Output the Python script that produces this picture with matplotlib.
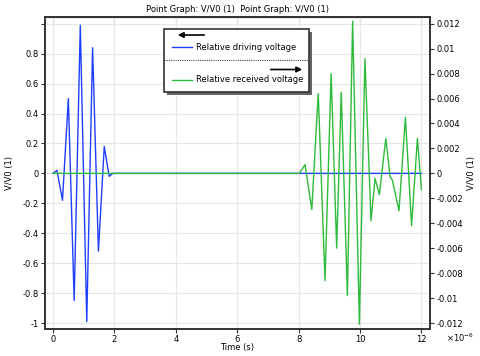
import matplotlib
matplotlib.use("Agg")
import matplotlib.pyplot as plt
from matplotlib.patches import Rectangle, FancyArrowPatch
from matplotlib.lines import Line2D

plt.rcParams['font.family'] = ['DejaVu Sans']
plt.rcParams['axes.unicode_minus'] = False

# driving voltage (left axis), time in microseconds, extrema
drive_t = [0.0, 0.13, 0.31, 0.50, 0.69, 0.89, 1.10, 1.29, 1.48, 1.67, 1.83, 1.95, 12.0]
drive_v = [0.0, 0.02, -0.18, 0.50, -0.85, 0.99, -0.99, 0.84, -0.52, 0.18, -0.02, 0.0, 0.0]

# received voltage (right axis)
recv_t = [0.0, 8.02, 8.21, 8.43, 8.64, 8.86, 9.06, 9.24, 9.39, 9.59, 9.76, 9.98,
          10.16, 10.36, 10.49, 10.63, 10.84, 10.98, 11.05, 11.27, 11.48, 11.68,
          11.87, 12.0]
recv_v = [0.0, 0.0, 0.0007, -0.0029, 0.0064, -0.0086, 0.0080, -0.0060, 0.0065,
          -0.0098, 0.0122, -0.0121, 0.0092, -0.0038, -0.0004, -0.0017, 0.0028,
          -0.0003, -0.0005, -0.0030, 0.0045, -0.0042, 0.0028, -0.0013]

x_ticks = [0, 2, 4, 6, 8, 10, 12]
left_ticks = [-1, -0.8, -0.6, -0.4, -0.2, 0, 0.2, 0.4, 0.6, 0.8, 1.0]
left_labels = ['-1', '-0.8', '-0.6', '-0.4', '-0.2', '0', '0.2', '0.4', '0.6', '0.8', '']
right_ticks = [-0.012, -0.01, -0.008, -0.006, -0.004, -0.002, 0, 0.002, 0.004,
               0.006, 0.008, 0.01, 0.012]
right_labels = ['%g' % v for v in right_ticks]

blue = '#1f3fff'
green = '#2dbb3c'
W, H = 480, 356
fs = 6


def fx(x):
    return x / W


def fy(y):
    return 1 - y / H


fig = plt.figure(figsize=(4.8, 3.56), dpi=100)
ax = fig.add_axes([fx(45), fy(329), fx(430) - fx(45), fy(17) - fy(329)])
ax2 = ax.twinx()

ax.plot(drive_t, drive_v, color=blue, lw=1.0)
ax2.plot(recv_t, recv_v, color=green, lw=1.0)

ax.set_xlim(-0.26, 12.28)
ax.set_ylim(-1.04, 1.045)
ax2.set_ylim(-1.04 * 0.012, 1.045 * 0.012)

ax.set_xticks(x_ticks)
ax.set_xticklabels([str(t) for t in x_ticks])
ax.set_yticks(left_ticks)
ax.set_yticklabels(left_labels)
ax2.set_yticks(right_ticks)
ax2.set_yticklabels(right_labels)

for a in (ax, ax2):
    a.tick_params(labelsize=fs, length=3, width=0.8, pad=1.5, direction='out',
                  color='#333333')
    for s in a.spines.values():
        s.set_color('#333333')
        s.set_linewidth(1.2)

top = ax.secondary_xaxis('top')
top.set_xticks(x_ticks)
top.tick_params(direction='in', length=3, labeltop=False, color='#333333')

ax.grid(True, color='#e6e6e6', lw=0.8)
ax.set_axisbelow(True)

ax.set_xlabel('Time (s)', fontsize=fs, labelpad=-1)
ax.set_ylabel('V/V0 (1)', fontsize=fs, labelpad=6)
ax2.set_ylabel('V/V0 (1)', fontsize=fs, labelpad=3)
ax.set_title('Point Graph: V/V0 (1)  Point Graph: V/V0 (1)', fontsize=fs, pad=3.5)
fig.text(fx(446), fy(338), r'$\times10^{-6}$', fontsize=fs, va='center')

# legend box drawn by hand, as in the original
fig.add_artist(Rectangle((fx(167), fy(95)), fx(309) - fx(164), fy(29) - fy(92),
                         transform=fig.transFigure, facecolor='#666666',
                         edgecolor='none'))
fig.add_artist(Rectangle((fx(164), fy(92)), fx(309) - fx(164), fy(29) - fy(92),
                         transform=fig.transFigure, facecolor='white',
                         edgecolor='#333333', lw=1.2))
fig.add_artist(FancyArrowPatch((fx(207), fy(35)), (fx(175), fy(35)),
                               transform=fig.transFigure, arrowstyle='-|>',
                               mutation_scale=8, lw=1.2, color='black'))
fig.add_artist(FancyArrowPatch((fx(268), fy(69.5)), (fx(305), fy(69.5)),
                               transform=fig.transFigure, arrowstyle='-|>',
                               mutation_scale=8, lw=1.2, color='black'))
fig.add_artist(Line2D([fx(164), fx(309)], [fy(59.5), fy(59.5)],
                      transform=fig.transFigure, color='#444444', lw=0.8,
                      linestyle=(0, (1, 1))))
fig.add_artist(Line2D([fx(172), fx(192)], [fy(47), fy(47)],
                      transform=fig.transFigure, color=blue, lw=1.0))
fig.add_artist(Line2D([fx(172), fx(192)], [fy(80), fy(80)],
                      transform=fig.transFigure, color=green, lw=1.0))
fig.text(fx(196), fy(47), 'Relative driving voltage', fontsize=fs, va='center')
fig.text(fx(196), fy(80), 'Relative received voltage', fontsize=fs, va='center')

fig.savefig('out.png', dpi=100)
